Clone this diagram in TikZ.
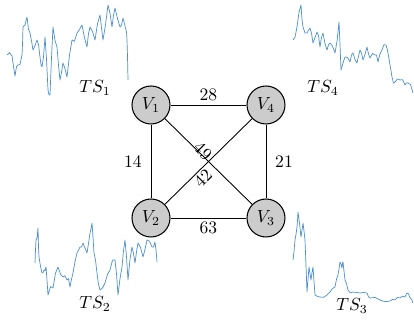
\documentclass[tikz,border=0pt]{standalone}
\usepackage{tikz}

\definecolor{seriesblue}{RGB}{75,145,205}

\begin{document}
\begin{tikzpicture}[
  x=0.02cm, y=-0.02cm,
  vertex/.style={draw, circle, fill=gray!40, line width=0.6pt, minimum size=0.76cm, inner sep=0pt},
  edge/.style={line width=0.5pt},
  weight/.style={inner sep=2pt},
  series/.style={seriesblue, line width=0.4pt, line join=round},
  tslabel/.style={font=\normalsize},
]
\useasboundingbox (0,0) rectangle (414,320);
\pgfmathsetseed{42}

% Time series sketches, one in each corner (midpoints jittered).
\draw[series] (7,55) \foreach \x/\y [remember=\x as \lx (initially 7), remember=\y as \ly (initially 55)] in
  {12/56, 15/76, 18/65, 22/55, 23/27, 27/17, 30/33, 33/50, 37/40, 40/57, 42/67, 45/37, 48/90, 50/95, 53/27,
   57/47, 60/80, 63/63, 67/77, 72/40, 77/33, 82/25, 87/47, 90/27, 95/40, 100/15, 103/40, 108/5, 112/27,
   115/8, 120/27, 123/18, 126/30, 127/40, 128/80}
  { -- ({(\lx+\x)/2}, {(\ly+\y)/2+5*rand}) -- (\x,\y) };

\draw[series] (293,40) \foreach \x/\y [remember=\x as \lx (initially 293), remember=\y as \ly (initially 40)] in
  {297/27, 301/5, 303/27, 307/33, 310/28, 313/43, 317/32, 320/47, 323/33, 327/50, 330/43, 335/53, 339/22,
   341/70, 345/57, 350/62, 353/53, 357/63, 360/50, 363/60, 367/47, 370/58, 375/55, 378/62, 382/50,
   386/45, 388/53, 392/77, 395/82, 400/80, 405/85, 408/83, 413/93}
  { -- ({(\lx+\x)/2}, {(\ly+\y)/2+4*rand}) -- (\x,\y) };

\draw[series] (35,263) \foreach \x/\y [remember=\x as \lx (initially 35), remember=\y as \ly (initially 263)] in
  {36/240, 38/228, 39/257, 42/273, 44/270, 46/267, 48/295, 53/288, 58/267, 63/277, 67/280, 70/287,
   73/273, 77/253, 80/247, 83/243, 87/253, 90/233, 92/223, 94/253, 97/273, 100/290, 105/283, 110/270,
   115/260, 118/295, 122/267, 125/240, 128/280, 132/247, 135/263, 138/243, 143/257, 147/240, 152/247,
   155/242, 157/262}
  { -- ({(\lx+\x)/2}, {(\ly+\y)/2+5*rand}) -- (\x,\y) };

\draw[series] (293,260) \foreach \x/\y [remember=\x as \lx (initially 293), remember=\y as \ly (initially 260)] in
  {295/240, 297/227, 298/212, 301/237, 303/223, 305/240, 307/292, 309/267, 311/280, 313/267, 315/295,
   320/297, 327/295, 330/292, 335/287, 338/275, 340/262, 342/268, 343/262, 345/280, 348/290, 353/292,
   360/293, 367/293, 370/298, 380/300, 390/301, 395/300, 400/298, 405/297, 408/293, 412/300, 413/302}
  { -- ({(\lx+\x)/2}, {(\ly+\y)/2+2*rand}) -- (\x,\y) };

% Series labels.
\node[tslabel] (lab1) at (95,88) {$TS_1$};
\node[tslabel] (lab4) at (323,88) {$TS_4$};
\node[tslabel] (lab2) at (95,304) {$TS_2$};
\node[tslabel] (lab3) at (352,306) {$TS_3$};

% The complete graph on the four series.
\node[vertex] (v1) at (151,105) {$V_1$};
\node[vertex] (v4) at (266,105) {$V_4$};
\node[vertex] (v2) at (151,218) {$V_2$};
\node[vertex] (v3) at (266,218) {$V_3$};

\draw[edge] (v1) -- node[weight, above] {28} (v4);
\draw[edge] (v1) -- node[weight, left=3pt] {14} (v2);
\draw[edge] (v4) -- node[weight, right=3pt] {21} (v3);
\draw[edge] (v2) -- node[weight, below] {63} (v3);
\draw[edge] (v1) -- (v3);
\draw[edge] (v2) -- (v4);
% Diagonal weights, turned along their lines.
\node[weight, rotate=-45, inner sep=0pt] (w13) at (203,151) {49};
\node[weight, rotate=45, inner sep=0pt] (w24) at (203,178) {42};

\end{tikzpicture}
\end{document}
